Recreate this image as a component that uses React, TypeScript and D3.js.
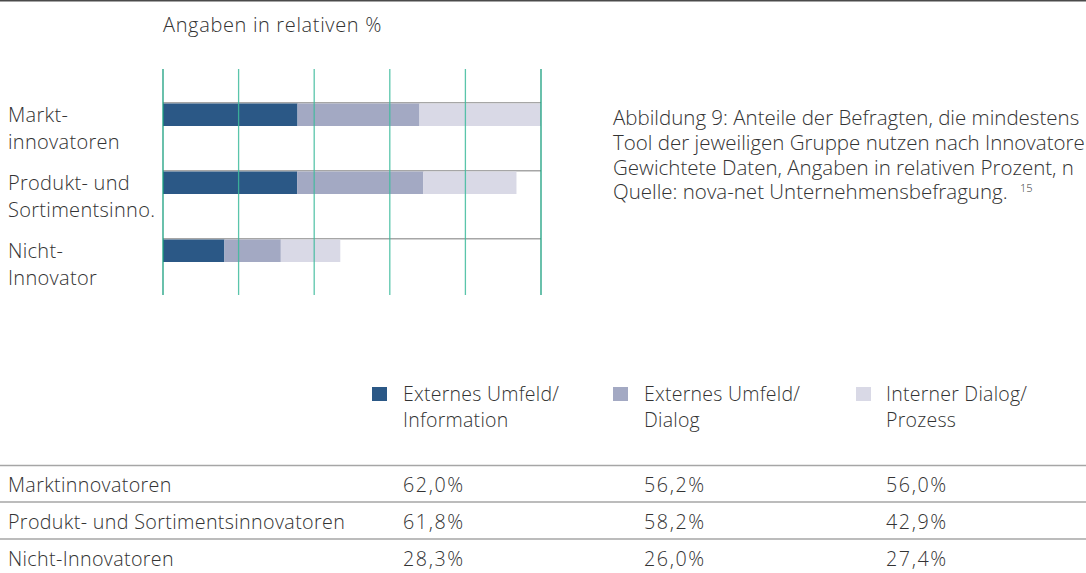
import React from "react";
import * as d3 from "d3";

const categories = ["Marktinnovatoren", "Produkt- und Sortimentsinnovatoren", "Nicht-Innovatoren"];
const chartLabels = [["Markt-", "innovatoren"], ["Produkt- und", "Sortimentsinno."], ["Nicht-", "Innovator"]];
const seriesKeys = ["extInfo", "extDialog", "intDialog"];
const seriesNames = [["Externes Umfeld/", "Information"], ["Externes Umfeld/", "Dialog"], ["Interner Dialog/", "Prozess"]];
const extInfo = [62.0, 61.8, 28.3];
const extDialog = [56.2, 58.2, 26.0];
const intDialog = [56.0, 42.9, 27.4];
const title = "Angaben in relativen %";
const caption = [
  "Abbildung 9: Anteile der Befragten, die mindestens",
  "Tool der jeweiligen Gruppe nutzen nach Innovatoren",
  "Gewichtete Daten, Angaben in relativen Prozent, n",
  "Quelle: nova-net Unternehmensbefragung.",
];
const footnote = "15";

const W = 1086;
const H = 573;
const colors = ["#2b5886", "#a3a9c3", "#d9d9e6"];
const textColor = "#333333";
const font = "'Open Sans', 'Noto Sans', sans-serif";

export default function App() {
  const rows = categories.map((c, i) => ({
    cat: c,
    extInfo: extInfo[i],
    extDialog: extDialog[i],
    intDialog: intDialog[i],
  }));
  const stack = d3.stack<any>().keys(seriesKeys)(rows);
  const xMax = d3.max(rows, (r) => r.extInfo + r.extDialog + r.intDialog) as number;
  const x = d3.scaleLinear().domain([0, xMax]).range([163, 541]);
  const y = d3.scaleBand().domain(categories).range([102, 306]).paddingInner(0).paddingOuter(0);
  const gridVals = d3.range(6).map((i) => (i * xMax) / 5);
  const fmt = d3.formatLocale({ decimal: ",", thousands: ".", grouping: [3], currency: ["", "€"] }).format(".1f");

  const legendSq = [372, 613, 856];
  const legendTx = [403, 644, 886];
  const tableLines = [465.5, 502, 539];
  const tableBase = [492, 529, 566];
  const capBase = [125, 150, 174.5, 199];

  return (
    <svg
      width={W}
      height={H}
      style={{ position: "absolute", left: 0, top: 0, display: "block", background: "#fff" }}
      fontFamily={font}
      fontWeight={300}
    >
      <rect x={0} y={0} width={W} height={H} fill="#ffffff" />
      <line x1={0} x2={W} y1={0.5} y2={0.5} stroke="#4a4a4a" strokeWidth={2} />
      <text x={163} y={32} fontSize={20} letterSpacing={0.65} fill={textColor}>{title}</text>

      {/* bar top rules */}
      {categories.map((c) => (
        <line key={"r" + c} x1={x(0)} x2={x(xMax)} y1={(y(c) as number) + 0.75} y2={(y(c) as number) + 0.75} stroke="#a6a6a6" strokeWidth={1.5} />
      ))}

      {/* bars */}
      {stack.map((s, si) => (
        <g key={s.key} fill={colors[si]}>
          {s.map((d, i) => (
            <rect
              key={i}
              x={x(d[0])}
              y={(y(categories[i]) as number) + 1.5}
              width={x(d[1]) - x(d[0])}
              height={22.5}
            />
          ))}
        </g>
      ))}

      {/* gridlines */}
      {gridVals.map((v, i) => (
        <line
          key={"g" + i}
          x1={x(v)}
          x2={x(v)}
          y1={69}
          y2={295}
          stroke={i === 0 || i === 5 ? "#1a9f7f" : "#3dbb9c"}
          strokeOpacity={i === 0 || i === 5 ? 1 : 0.85}
          strokeWidth={1.3}
        />
      ))}

      {/* category labels */}
      {categories.map((c, i) => (
        <text key={"l" + c} x={8} fontSize={20} letterSpacing={0.3} fill={textColor}>
          <tspan x={8} y={(y(c) as number) + 20}>{chartLabels[i][0]}</tspan>
          <tspan x={8} y={(y(c) as number) + 47}>{chartLabels[i][1]}</tspan>
        </text>
      ))}

      {/* caption */}
      <text x={613} fontSize={20.5} fill={textColor}>
        {caption.map((t, i) => (
          <tspan key={i} x={613} y={capBase[i]}>{t}</tspan>
        ))}
      </text>
      <text x={1020} y={192} fontSize={11} fill={textColor}>{footnote}</text>

      {/* legend */}
      {seriesNames.map((n, i) => (
        <g key={"lg" + i}>
          <rect x={legendSq[i]} y={387} width={15} height={14} fill={colors[i]} />
          <text fontSize={19.5} letterSpacing={0.25} fill={textColor}>
            <tspan x={legendTx[i]} y={401}>{n[0]}</tspan>
            <tspan x={legendTx[i]} y={427}>{n[1]}</tspan>
          </text>
        </g>
      ))}

      {/* table */}
      {tableLines.map((ly, i) => (
        <line key={"t" + i} x1={0} x2={W} y1={ly} y2={ly} stroke="#a6a6a6" strokeWidth={1.5} />
      ))}
      {rows.map((r, i) => (
        <g key={"row" + i} fontSize={19.7} fill={textColor}>
          <text x={8} y={tableBase[i]} letterSpacing={0.35}>{r.cat}</text>
          {seriesKeys.map((k, j) => (
            <text key={k} x={legendTx[j]} y={tableBase[i]} letterSpacing={1.6}>{fmt((r as any)[k])}%</text>
          ))}
        </g>
      ))}
    </svg>
  );
}
